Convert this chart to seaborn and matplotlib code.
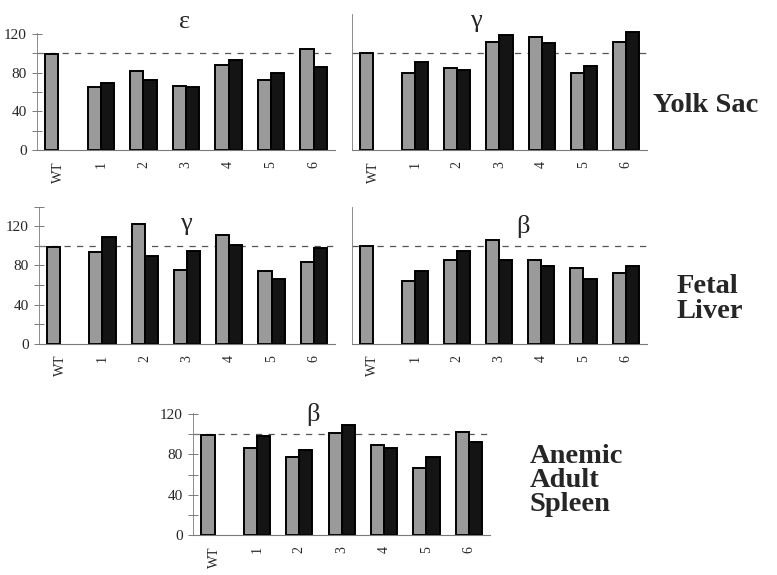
import numpy as np
import pandas as pd
import matplotlib
matplotlib.use('Agg')
import matplotlib.pyplot as plt
import seaborn as sns

# Relative expression (% of WT) for lines 1-6, two bars per line; WT has one bar
groups = ['WT', '1', '2', '3', '4', '5', '6']

yolk_eps_a = [99, 65, 82, 66, 88, 72, 104]
yolk_eps_b = [None, 69, 72, 65, 93, 80, 86]
yolk_gam_a = [100, 80, 85, 111, 117, 80, 111]
yolk_gam_b = [None, 91, 83, 119, 110, 87, 122]
liver_gam_a = [99, 94, 122, 75, 111, 74, 83]
liver_gam_b = [None, 109, 90, 95, 101, 66, 98]
liver_beta_a = [100, 64, 85, 106, 85, 77, 72]
liver_beta_b = [None, 74, 95, 85, 79, 66, 79]
spleen_beta_a = [99, 86, 78, 101, 89, 67, 102]
spleen_beta_b = [None, 98, 84, 109, 86, 78, 92]

reference_level = 100

sns.set_style('white')
plt.rcParams['font.family'] = ['Liberation Serif', 'DejaVu Serif']
plt.rcParams['font.size'] = 10

GRAY = '#9a9a9a'
BLACK = '#141414'
AXIS = '#7a7a7a'


def make_frame(a, b):
    rows = []
    for g, va, vb in zip(groups, a, b):
        rows.append({'group': g, 'series': 'a', 'value': va})
        rows.append({'group': g, 'series': 'b', 'value': vb})
    df = pd.DataFrame(rows)
    return df.dropna(subset=['value'])


def draw_panel(ax, a, b, ymax, spine_top, show_y=True, top_tick=False):
    df = make_frame(a, b)
    sns.barplot(data=df, x='group', y='value', hue='series', order=groups,
                hue_order=['a', 'b'], palette={'a': GRAY, 'b': BLACK},
                width=0.62, edgecolor='black', linewidth=1.4, dodge=True,
                legend=False, ax=ax)
    ax.set_xlabel('')
    ax.set_ylabel('')
    ax.set_xlim(-0.5, 6.5)
    ax.set_ylim(0, ymax)
    ax.axhline(reference_level, color='#555555', lw=0.9, ls=(0, (5, 5)), zorder=0)

    for s in ['top', 'right']:
        ax.spines[s].set_visible(False)
    ax.spines['left'].set_color(AXIS)
    ax.spines['left'].set_linewidth(0.6)
    ax.spines['left'].set_bounds(0, spine_top)
    ax.spines['bottom'].set_color(AXIS)
    ax.spines['bottom'].set_linewidth(0.8)

    ax.set_xticks(range(len(groups)))
    ax.set_xticklabels(groups, rotation=90, fontsize=10)
    ax.set_xticks(np.arange(-0.5, 7, 1), minor=True)
    ax.tick_params(axis='x', which='major', length=0, pad=8)
    ax.tick_params(axis='x', which='minor', direction='inout', length=9,
                   width=0.7, color=AXIS)

    if show_y:
        ax.set_yticks([0, 40, 80, 120])
        minor = [20, 60, 100] + ([140] if top_tick else [])
        ax.set_yticks(minor, minor=True)
        ax.tick_params(axis='y', which='both', direction='inout', length=7,
                       width=0.7, color=AXIS, labelsize=11, pad=4, left=True)
    else:
        ax.set_yticks([])


fig = plt.figure(figsize=(7.77, 5.75), dpi=100)

ax1 = fig.add_axes([0.0476, 0.7386, 0.3835, 0.2365])
ax2 = fig.add_axes([0.4530, 0.7386, 0.3797, 0.2365])
ax3 = fig.add_axes([0.0502, 0.4023, 0.3810, 0.2383])
ax4 = fig.add_axes([0.4526, 0.4023, 0.3797, 0.2383])
ax5 = fig.add_axes([0.2488, 0.0696, 0.3819, 0.2117])

draw_panel(ax1, yolk_eps_a, yolk_eps_b, 140, 121)
draw_panel(ax2, yolk_gam_a, yolk_gam_b, 140, 140, show_y=False)
draw_panel(ax3, liver_gam_a, liver_gam_b, 140, 140, top_tick=True)
draw_panel(ax4, liver_beta_a, liver_beta_b, 140, 140, show_y=False)
draw_panel(ax5, spleen_beta_a, spleen_beta_b, 121, 121)

# Greek gene labels
title_kw = dict(ha='center', va='baseline', fontsize=19)
fig.text(0.2375, 0.9513, '\u03b5', **title_kw)
fig.text(0.6122, 0.9530, '\u03b3', **title_kw)
fig.text(0.2387, 0.6000, '\u03b3', **title_kw)
fig.text(0.6727, 0.5948, '\u03b2', **title_kw)
fig.text(0.4022, 0.2678, '\u03b2', **title_kw)

# Tissue labels
row_kw = dict(ha='left', va='center', fontsize=20.5, fontweight='bold',
              linespacing=0.95)
fig.text(0.840, 0.8157, 'Yolk Sac', **row_kw)
fig.text(0.871, 0.4800, 'Fetal\nLiver', **row_kw)
fig.text(0.682, 0.1650, 'Anemic\nAdult\nSpleen', **row_kw)

fig.savefig('out.png', dpi=100)
